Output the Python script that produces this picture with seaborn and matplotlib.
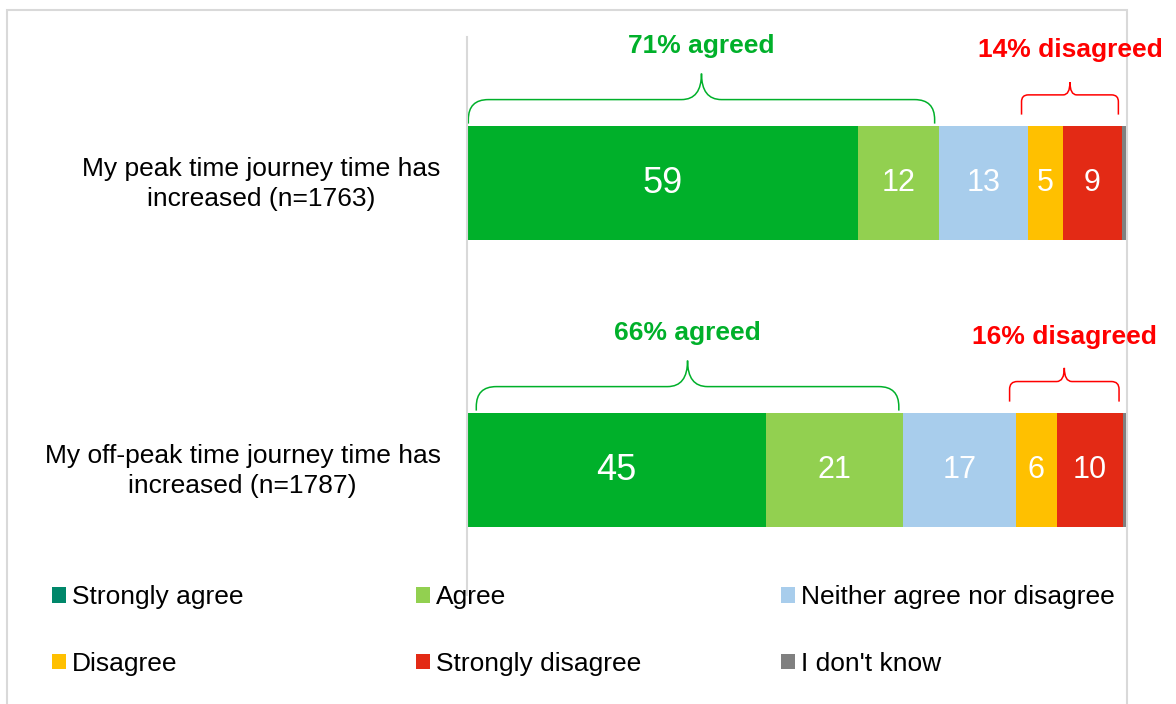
import numpy as np
import pandas as pd
import matplotlib
matplotlib.use('Agg')
import matplotlib.pyplot as plt
import matplotlib.transforms as mtransforms
import seaborn as sns
from matplotlib.patches import Patch, PathPatch, Rectangle
from matplotlib.path import Path

# --- DATA ---
questions = ['My peak time journey time has\nincreased (n=1763)',
             'My off-peak time journey time has\nincreased (n=1787)']
categories = ['Strongly agree', 'Agree', 'Neither agree nor disagree',
              'Disagree', 'Strongly disagree', "I don't know"]
peak = [59.0, 12.2, 13.3, 5.3, 9.0, 0.5]
offpeak = [45.1, 20.7, 16.9, 6.3, 9.9, 0.4]

bar_colors = ['#00B02A', '#92D050', '#A8CDEC', '#FFC000', '#E32A15', '#808080']
legend_colors = ['#00876A', '#92D050', '#A8CDEC', '#FFC000', '#E32A15', '#808080']
GREEN_TXT = '#00B02A'
RED_TXT = '#FF0000'

# --- FIGURE ---
sns.set_style('white')
plt.rcParams['font.family'] = ['Liberation Sans', 'DejaVu Sans']
plt.rcParams['text.color'] = 'black'

W, H = 1176, 704
fig = plt.figure(figsize=(W / 100, H / 100), dpi=100)
ax = fig.add_axes([467 / W, 1 - 595 / H, (1127 - 467) / W, (595 - 37) / H])
ax.patch.set_visible(False)

vals = np.array([peak, offpeak])
cum = np.cumsum(vals, axis=1)

# stacked bars: draw cumulative totals from the widest down
for i in reversed(range(len(categories))):
    sns.barplot(x=cum[:, i], y=questions, color=bar_colors[i], orient='h',
                width=0.4, linewidth=0, saturation=1, ax=ax)

XMAX = 99.5
ax.set_xlim(0, XMAX)
ax.set_ylim(1.4355, -0.5087)

# segment labels
for r in range(len(questions)):
    for i in range(len(categories) - 1):
        xc = cum[r, i] - vals[r, i] / 2
        ax.text(xc, r, f"{round(vals[r, i])}", color='white', ha='center', va='center',
                fontsize=26 if i == 0 else 22)

# px -> data conversions
px_x = XMAX / (1127 - 467)
px_y = 1.0 / 287


def brace(x0, x1, ybase, color, gap):
    wpx = (x1 - x0) / px_x
    r = min(20, 0.07 * wpx)
    rx, ry = r * px_x, r * px_y
    yb = ybase - gap * px_y
    yh = ybase - (gap + 17 + r * 0.4) * px_y if gap > 5 else ybase - 26 * px_y
    yc = yh - (r + 6) * px_y
    xm = (x0 + x1) / 2
    verts = [(x0, yb), (x0, yh + ry), (x0, yh), (x0 + rx, yh), (xm - rx, yh),
             (xm, yh), (xm, yc), (xm, yh), (xm + rx, yh), (x1 - rx, yh),
             (x1, yh), (x1, yh + ry), (x1, yb)]
    codes = [Path.MOVETO, Path.LINETO, Path.CURVE3, Path.CURVE3, Path.LINETO,
             Path.CURVE3, Path.CURVE3, Path.CURVE3, Path.CURVE3, Path.LINETO,
             Path.CURVE3, Path.CURVE3, Path.LINETO]
    ax.add_patch(PathPatch(Path(verts, codes), fill=False, edgecolor=color,
                           lw=1.1, clip_on=False))
    return xm


for r in range(len(questions)):
    top = r - 0.2
    agree = vals[r, 0] + vals[r, 1]
    xm = brace(0.2 + r * 1.2, agree - 0.7, top, GREEN_TXT, 2)
    ax.text(xm, top - 80 * px_y, f"{round(agree)}% agreed", color=GREEN_TXT,
            fontsize=19, fontweight='bold', ha='center', va='center')
    disagree = vals[r, 3] + vals[r, 4]
    xm = brace(cum[r, 2] - 0.9, cum[r, 4] - 0.6, top, RED_TXT, 11)
    ax.text(xm, top - 76 * px_y, f"{round(disagree)}% disagreed", color=RED_TXT,
            fontsize=19, fontweight='bold', ha='center', va='center', zorder=5)

# axes styling
for s in ['top', 'right', 'bottom']:
    ax.spines[s].set_visible(False)
ax.spines['left'].set_color('#D9D9D9')
ax.spines['left'].set_linewidth(1.5)
ax.set_xticks([])
ax.set_xlabel('')
ax.set_ylabel('')
ax.tick_params(axis='y', length=0, pad=19, labelsize=19, labelcolor='black')
lift = mtransforms.ScaledTranslation(0, 0.045, fig.dpi_scale_trans)
for lbl in ax.get_yticklabels():
    lbl.set_multialignment('center')
    lbl.set_linespacing(1.32)
    lbl.set_transform(lbl.get_transform() + lift)

# legend: three columns of two entries
col_x = [52, 416, 781]
for c in range(3):
    idx = [c, c + 3]
    handles = [Patch(facecolor=legend_colors[i], edgecolor='none') for i in idx]
    leg = fig.legend(handles, [categories[i] for i in idx], loc='center left',
                     bbox_to_anchor=(col_x[c] / W, 1 - 630.5 / H), frameon=False,
                     fontsize=19, handlelength=0.53, handleheight=0.53,
                     handletextpad=0.23, labelspacing=1.62, borderpad=0,
                     borderaxespad=0)
    for t in leg.get_texts():
        t.set_color('black')

# outer chart frame, kept behind everything
frame = Rectangle((7 / W, -0.05), (1127 - 7) / W, (H - 10) / H + 0.05,
                  transform=fig.transFigure, fill=False,
                  edgecolor='#D9D9D9', lw=1.5, zorder=-1)
fig.patches.append(frame)

fig.savefig('out.png', dpi=100)
